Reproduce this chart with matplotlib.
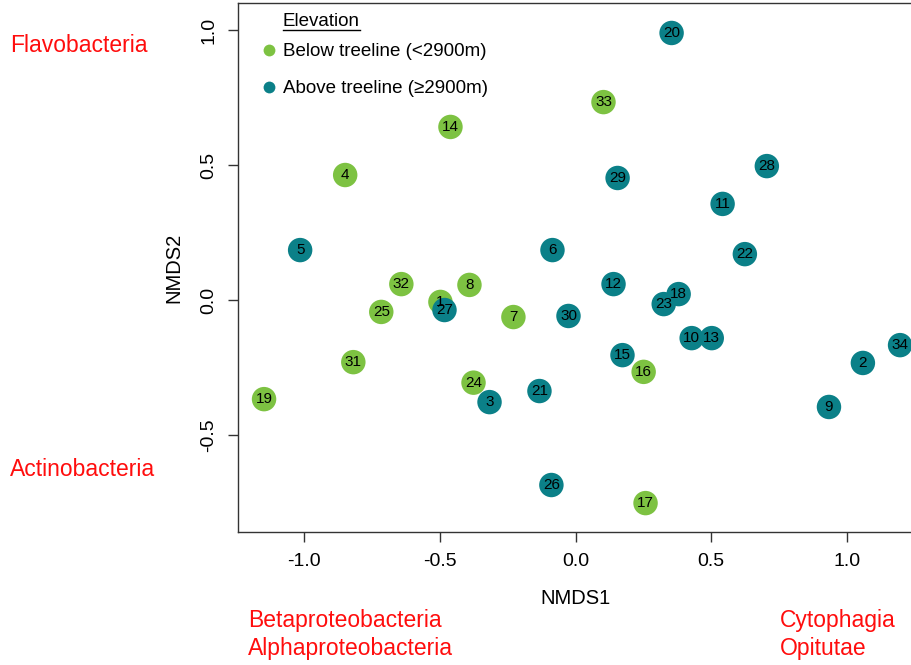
import matplotlib
matplotlib.use("Agg")
import matplotlib.pyplot as plt
from matplotlib.lines import Line2D

plt.rcParams['font.family'] = ['Liberation Sans', 'DejaVu Sans']

# Sample ids, NMDS coordinates, elevation group
sample_ids = [1, 2, 3, 4, 5, 6, 7, 8, 9, 10, 11, 12, 13, 14, 15, 16, 17,
              18, 19, 20, 21, 22, 23, 24, 25, 26, 27, 28, 29, 30, 31, 32, 33, 34]
nmds1 = [-0.498, 1.059, -0.317, -0.849, -1.015, -0.085, -0.229, -0.391, 0.934, 0.428,
         0.542, 0.140, 0.502, -0.461, 0.173, 0.251, 0.258, 0.380, -1.148, 0.354,
         -0.133, 0.624, 0.325, -0.376, -0.716, -0.089, -0.483, 0.705, 0.155, -0.026,
         -0.819, -0.642, 0.103, 1.196]
nmds2 = [-0.007, -0.233, -0.378, 0.463, 0.185, 0.185, -0.063, 0.056, -0.396, -0.141,
         0.356, 0.059, -0.141, 0.641, -0.204, -0.266, -0.752, 0.022, -0.367, 0.989,
         -0.337, 0.170, -0.015, -0.306, -0.044, -0.685, -0.037, 0.496, 0.452, -0.059,
         -0.230, 0.059, 0.733, -0.167]
above_treeline = [False, True, True, False, True, True, False, False, True, True,
                  True, True, True, False, True, False, False, True, False, True,
                  True, True, True, False, False, True, True, True, True, True,
                  False, False, False, True]

group_labels = ["Below treeline (<2900m)", "Above treeline (\u22652900m)"]
group_colors = ["#7dc242", "#0b8088"]
legend_title = "Elevation"

corner_labels_left_top = ["Flavobacteria"]
corner_labels_left_bottom = ["Actinobacteria"]
corner_labels_bottom_left = ["Betaproteobacteria", "Alphaproteobacteria"]
corner_labels_bottom_right = ["Cytophagia", "Opitutae"]

W, H = 912, 665
fig = plt.figure(figsize=(W / 100, H / 100), dpi=100)
ax = fig.add_axes([238 / W, 133 / H, 674 / W, 529 / H])

for i, (sid, x, y, ab) in enumerate(zip(sample_ids, nmds1, nmds2, above_treeline)):
    ax.scatter([x], [y], s=310, color=group_colors[1 if ab else 0],
               edgecolors='none', zorder=2 + i * 0.001)
for sid, x, y in zip(sample_ids, nmds1, nmds2):
    ax.text(x, y, str(sid), ha='center', va='center', fontsize=11,
            color='black', zorder=5)

ax.set_xlim(-1.244, 1.24)
ax.set_ylim(-0.859, 1.1)
ax.set_xticks([-1.0, -0.5, 0.0, 0.5, 1.0])
ax.set_yticks([-0.5, 0.0, 0.5, 1.0])
ax.set_xticklabels(["-1.0", "-0.5", "0.0", "0.5", "1.0"])
ax.set_yticklabels(["-0.5", "0.0", "0.5", "1.0"], rotation=90, va='center')
ax.tick_params(axis='both', labelsize=14, length=7, width=1, color='#333333',
               pad=8)
ax.set_xlabel("NMDS1", fontsize=14.5, labelpad=14)
ax.set_ylabel("NMDS2", fontsize=14.5, labelpad=12)
for sp in ax.spines.values():
    sp.set_color('#333333')
    sp.set_linewidth(1.0)

handles = [Line2D([], [], marker='o', linestyle='none', markersize=8.5,
                  markerfacecolor=c, markeredgecolor='none') for c in group_colors]
leg = ax.legend(handles, group_labels, loc='upper left',
                bbox_to_anchor=(258 / W, 1 - 38 / H), bbox_transform=fig.transFigure,
                frameon=False, fontsize=13.5, handletextpad=0.25, labelspacing=1.05,
                handlelength=1.0, borderaxespad=0.0, borderpad=0.0)

# Fine-tune legend position so the first label sits where the reference has it
fig.canvas.draw()
inv = fig.transFigure.inverted()
t0 = leg.get_texts()[0].get_window_extent()
target_x, target_y = 283.0, H - 52.0
dx = target_x - t0.x0
dy = target_y - (t0.y0 + t0.y1) / 2
leg.set_bbox_to_anchor(((258 + dx) / W, 1 - 38 / H + dy / H), transform=fig.transFigure)
fig.canvas.draw()
t0 = leg.get_texts()[0].get_window_extent()

title = fig.text(t0.x0 / W, 1 - 22 / H, legend_title, fontsize=13.5,
                 ha='left', va='center')
fig.canvas.draw()
bb = title.get_window_extent().transformed(inv)
fig.add_artist(Line2D([bb.x0, bb.x1], [bb.y0 + 0.0005, bb.y0 + 0.0005],
                      transform=fig.transFigure, color='black', linewidth=1))

red = '#ff0d0d'
fs_red = 16.5
fig.text(10 / W, 1 - 45 / H, corner_labels_left_top[0], color=red,
         fontsize=fs_red, va='center', ha='left')
fig.text(10 / W, 1 - 470 / H, corner_labels_left_bottom[0], color=red,
         fontsize=fs_red, va='center', ha='left')
for k, t in enumerate(corner_labels_bottom_left):
    fig.text(248 / W, 1 - (621 + 28 * k) / H, t, color=red, fontsize=fs_red,
             va='center', ha='left')
for k, t in enumerate(corner_labels_bottom_right):
    fig.text(780 / W, 1 - (621 + 28 * k) / H, t, color=red, fontsize=fs_red,
             va='center', ha='left')

fig.savefig("out.png", dpi=100)
